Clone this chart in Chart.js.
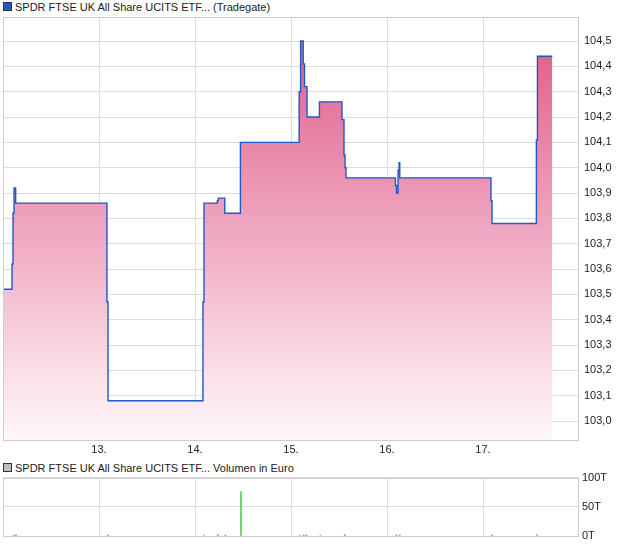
<!DOCTYPE html>
<html>
<head>
<meta charset="utf-8">
<script src="https://cdn.jsdelivr.net/npm/chart.js@4/dist/chart.umd.min.js"></script>
<style>
    body { margin: 0; width: 620px; height: 546px; background: #fff; overflow: hidden; position: relative;
           font-family: "Liberation Sans", Arial, sans-serif; }
    .legend { position: absolute; left: 3px; font-size: 11px; color: #222; line-height: 12px; white-space: nowrap; }
    .legend .box { display: inline-block; width: 7px; height: 7px; border: 1px solid #333; margin-right: 3px; }
    #priceWrap { position: absolute; left: 0; top: 0; }
    #volWrap { position: absolute; left: 0; top: 468px; }
</style>
</head>
<body>
<div class="legend" style="top:1px"><span class="box" style="background:#2456c8"></span>SPDR FTSE UK All Share UCITS ETF... (Tradegate)</div>
<div id="priceWrap"><canvas id="priceChart" width="620" height="460"></canvas></div>
<div class="legend" style="top:462px"><span class="box" style="background:#bdbdbd"></span>SPDR FTSE UK All Share UCITS ETF... Volumen in Euro</div>
<div id="volWrap"><canvas id="volumeChart" width="620" height="78"></canvas></div>

<script>
// Price (step line), x in days of the month
const priceDays = [12.000, 12.094, 12.104, 12.115, 12.132, 13.083, 13.094, 14.083, 14.094, 14.233, 14.243,
    14.310, 14.473, 15.085, 15.100, 15.127, 15.141, 15.167, 15.296, 15.531, 15.552, 15.563, 15.573,
    16.088, 16.099, 16.115, 16.126, 16.133, 17.083, 17.094, 17.556, 17.567, 17.722];
const priceValues = [103.52, 103.62, 103.82, 103.92, 103.86, 103.47, 103.08, 103.47, 103.86, 103.87, 103.88,
    103.82, 104.10, 104.30, 104.50, 104.41, 104.32, 104.20, 104.26, 104.19, 104.05, 104.00, 103.96,
    103.93, 103.90, 103.99, 104.02, 103.96, 103.87, 103.78, 104.11, 104.44, 104.44];

// Volume (thousand euro)
const volumeDays = [12.111, 12.135, 13.094, 14.091, 14.240, 14.317, 14.479, 15.091, 15.132, 15.160,
    15.306, 15.559, 16.098, 16.133, 17.091, 17.563];
const volumeValues = [1.5, 1.5, 1.5, 1.5, 3, 1.5, 76, 1.5, 1.5, 1.5, 1.5, 2, 1.5, 1.5, 1.5, 2.5];
const volumeUp = [true, false, false, true, true, false, true, true, false, false,
    true, false, false, false, false, true];

const dayTicks = [13, 14, 15, 16, 17];
const priceTicks = [103.0, 103.1, 103.2, 103.3, 103.4, 103.5, 103.6, 103.7, 103.8, 103.9,
    104.0, 104.1, 104.2, 104.3, 104.4, 104.5];
const volumeTicks = [0, 50, 100];

const gridColor = '#dcdcdc';
const tickFont = { family: '"Liberation Sans", Arial, sans-serif', size: 11 };

// gray frame round the plot area
const framePlugin = {
    id: 'frame',
    afterDraw(chart) {
        const a = chart.chartArea;
        const ctx = chart.ctx;
        ctx.save();
        ctx.strokeStyle = '#cccccc';
        ctx.lineWidth = 1;
        ctx.strokeRect(Math.round(a.left) + 0.5, Math.round(a.top) + 0.5,
            Math.round(a.right - a.left) - 1, Math.round(a.bottom - a.top));
        ctx.restore();
    }
};

function setTicks(list) {
    return (scale) => { scale.ticks = list.map(v => ({ value: v })); };
}

Chart.defaults.font.family = tickFont.family;
Chart.defaults.color = '#222';

new Chart(document.getElementById('priceChart'), {
    type: 'line',
    data: {
        datasets: [{
            data: priceDays.map((d, i) => ({ x: d, y: priceValues[i] })),
            stepped: true,
            borderColor: '#1f58c8',
            borderWidth: 1.4,
            pointRadius: 0,
            fill: 'start',
            backgroundColor: (context) => {
                const area = context.chart.chartArea;
                if (!area) return '#eea0bb';
                const g = context.chart.ctx.createLinearGradient(0, area.top, 0, area.bottom);
                g.addColorStop(0, '#df5585');
                g.addColorStop(1, '#fff8fb');
                return g;
            }
        }]
    },
    options: {
        responsive: false,
        animation: false,
        devicePixelRatio: 1,
        layout: { padding: { left: 3, top: 17, right: 0, bottom: 0 } },
        plugins: { legend: { display: false }, tooltip: { enabled: false } },
        scales: {
            x: {
                type: 'linear', min: 12, max: 18,
                afterBuildTicks: setTicks(dayTicks),
                afterFit: (s) => { s.height = 20; },
                grid: { color: gridColor, drawTicks: false },
                border: { display: false },
                ticks: { font: tickFont, padding: 3, maxRotation: 0, callback: (v) => v + '.' }
            },
            y: {
                position: 'right', min: 102.925, max: 104.595,
                afterBuildTicks: setTicks(priceTicks),
                afterFit: (s) => { s.width = 41; },
                grid: { color: gridColor, drawTicks: false },
                border: { display: false },
                ticks: { font: tickFont, padding: 5, callback: (v) => v.toFixed(1).replace('.', ',') }
            }
        }
    },
    plugins: [framePlugin]
});

new Chart(document.getElementById('volumeChart'), {
    type: 'bar',
    data: {
        datasets: [{
            data: volumeDays.map((d, i) => ({ x: d, y: volumeValues[i] })),
            backgroundColor: volumeUp.map(up => up ? '#5cc85c' : '#e0473f'),
            barThickness: 1
        }]
    },
    options: {
        responsive: false,
        animation: false,
        devicePixelRatio: 1,
        layout: { padding: { left: 3, top: 8, right: 0, bottom: 0 } },
        plugins: { legend: { display: false }, tooltip: { enabled: false } },
        scales: {
            x: {
                type: 'linear', min: 12, max: 18, offset: false,
                afterBuildTicks: setTicks(dayTicks),
                afterFit: (s) => { s.height = 10; },
                grid: { color: gridColor, drawTicks: false, offset: false },
                border: { display: false },
                ticks: { display: false }
            },
            y: {
                position: 'right', min: 0, max: 100,
                afterBuildTicks: setTicks(volumeTicks),
                afterFit: (s) => { s.width = 41; },
                grid: { color: gridColor, drawTicks: false },
                border: { display: false },
                ticks: { font: tickFont, padding: 3, callback: (v) => v + 'T' }
            }
        }
    },
    plugins: [framePlugin]
});
</script>
</body>
</html>
